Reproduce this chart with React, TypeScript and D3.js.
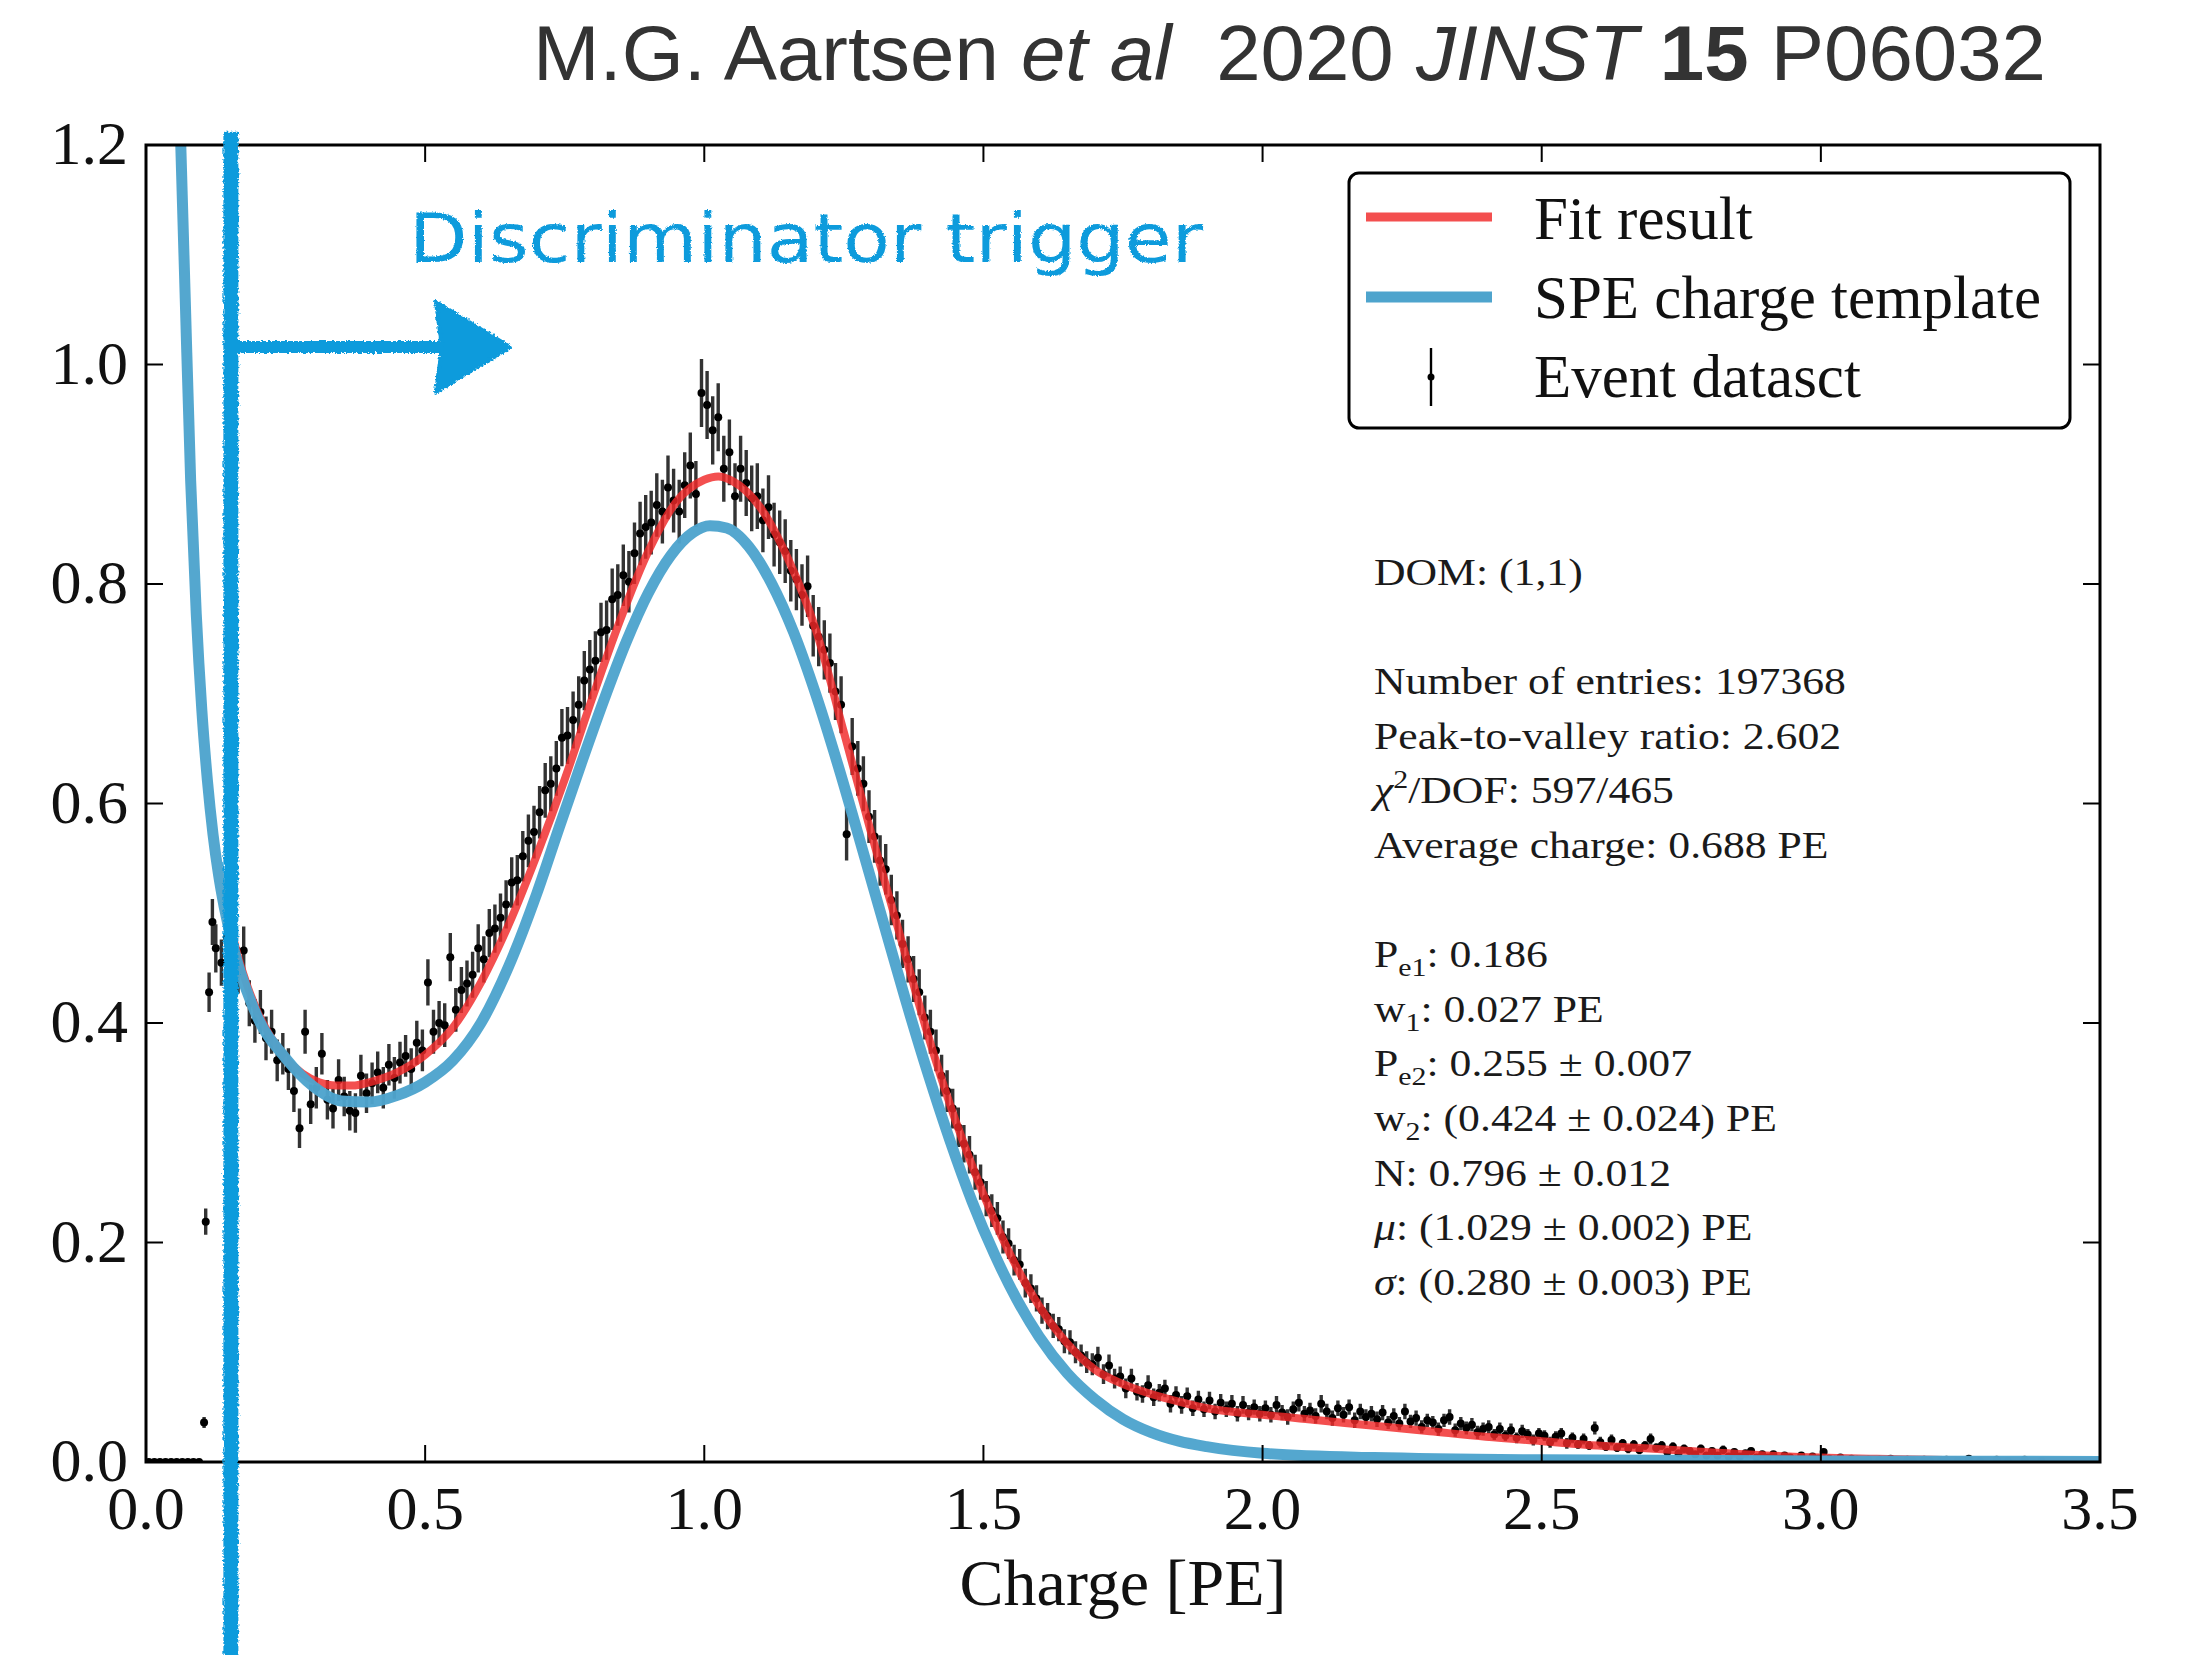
import React from 'react';
import * as d3 from 'd3';

const W = 2188;
const H = 1655;

// axes
const xTicks = [0, 0.5, 1.0, 1.5, 2.0, 2.5, 3.0, 3.5];
const yTicks = [0, 0.2, 0.4, 0.6, 0.8, 1.0, 1.2];

// Fit result (red)
const fitX = [0.15,0.16,0.18,0.20,0.225,0.25,0.28,0.31,0.34,0.37,0.40,0.45,0.50,0.55,0.60,0.65,0.70,0.75,0.80,0.85,0.90,0.95,1.00,1.025,1.05,1.10,1.15,1.20,1.25,1.30,1.35,1.40,1.45,1.50,1.55,1.60,1.65,1.70,1.75,1.80,1.85,1.90,2.00,2.10,2.20,2.30,2.40,2.50,2.60,2.70,2.80,2.90,3.00,3.10,3.20,3.35,3.50];
const fitY = [0.492,0.470,0.436,0.410,0.386,0.368,0.354,0.346,0.343,0.343,0.346,0.355,0.371,0.396,0.437,0.490,0.553,0.622,0.697,0.768,0.830,0.875,0.895,0.898,0.894,0.870,0.823,0.758,0.665,0.571,0.481,0.390,0.311,0.244,0.187,0.142,0.108,0.084,0.071,0.062,0.055,0.049,0.043,0.038,0.033,0.028,0.023,0.019,0.015,0.012,0.009,0.006,0.004,0.003,0.002,0.001,0.001];

// SPE charge template (blue)
const templateX = [0.060,0.070,0.080,0.090,0.100,0.110,0.120,0.130,0.140,0.160,0.180,0.200,0.250,0.300,0.350,0.400,0.450,0.500,0.550,0.600,0.650,0.700,0.740,0.780,0.820,0.860,0.900,0.940,0.980,1.010,1.040,1.080,1.120,1.160,1.200,1.240,1.280,1.320,1.360,1.400,1.440,1.480,1.520,1.560,1.600,1.650,1.700,1.750,1.800,1.850,1.900,2.000,2.200,2.500,3.000,3.500];
const templateY = [1.24,1.065,0.894,0.773,0.685,0.621,0.572,0.535,0.506,0.462,0.430,0.405,0.368,0.342,0.329,0.328,0.334,0.346,0.366,0.400,0.452,0.518,0.578,0.637,0.694,0.747,0.792,0.826,0.847,0.853,0.851,0.834,0.801,0.756,0.699,0.634,0.564,0.493,0.422,0.355,0.293,0.237,0.189,0.148,0.114,0.081,0.057,0.039,0.027,0.019,0.014,0.008,0.004,0.002,0.001,0.0005];

// Event dataset: bins below the trigger
const lowBinX = [0.005,0.015,0.025,0.035,0.045,0.055,0.065,0.075,0.085,0.095,0.104,0.107,0.113,0.119];
const lowBinY = [0,0,0,0,0,0,0,0,0,0,0.036,0.219,0.428,0.492];
const lowBinErr = [0,0,0,0,0,0,0,0,0,0,0.005,0.012,0.018,0.021];

// Event dataset: main bins, centres binStart + i*binWidth, values in units of 0.001
const binStart = 0.125;
const binWidth = 0.01;
const eventCounts = [
  468,455,478,462,448,466,418,402,410,386, 392,366,372,358,338,304,392,326,341,372,
  330,322,348,333,320,318,352,336,345,355, 341,362,350,364,370,358,382,375,
  437,392,400,398,460,412,430,436,444,468, 458,482,486,496,508,528,530,552,566,574,
  592,612,618,632,660,662,676,690,712,722, 730,756,758,786,790,808,802,828,846,852,
  856,872,866,888,876,866,890,908,882,974,
  963,940,952,905,920,880,905,892,878,880, 858,870,845,838,830,812,804,790,798,762,
  752,740,728,702,690,572,652,632,618,588, 570,548,540,512,498,472,458,440,428,405,
  392,375,352,338,322,305,290,280,264,255,
  240,229,222,205,199,184,180,163,158,149, 138,133,124,121,110,109,100,97,91,89,
  95,80,88,76,78,67,76,64,62,70, 59,63,67,53,61,52,60,49,57,48,
  56,46,54,48,53,44,52,45,50,44,
  49,43,52,45,41,48,54,44,47,42, 53,46,40,49,43,50,38,46,41,44,
  39,45,36,42,35,46,37,40,32,38, 36,30,38,41,29,35,31,34,27,30,
  32,25,30,24,29,22,28,25,20,26, 24,18,23,26,17,22,16,21,15,31,
  18,14,20,13,17,12,16,11,15,21, 13,15,9,14,8,12,10,7,12,6,
  10,6,11,5,9,5,8,10,4,7, 4,7,3,6,4,2,6,2,5,3,
  9,3,2,4,1,3,2,1,2,0, 2,1,3,1,0,2,1,0,2,1,
  0,1,2,0,1,0,3,0,1,0, 0,2,0,1,0,0,2,0,0,1, 0
];
const eventErrors = [
  22,21,22,22,21,22,21,20,20,20, 20,19,19,19,19,18,20,18,19,19,
  18,18,19,18,18,18,19,18,19,19, 19,19,19,19,19,19,20,19,
  21,20,20,20,22,20,21,21,21,22, 21,22,22,22,22,23,23,23,24,24,
  24,25,25,25,26,26,26,26,27,27, 27,27,27,28,28,28,28,28,29,29,
  29,29,29,29,29,29,30,30,30,31,
  31,31,31,30,30,30,30,30,30,30, 29,29,29,29,29,28,28,28,28,28,
  27,27,27,26,26,24,26,25,25,24, 24,23,23,23,22,22,21,21,21,20,
  20,19,19,19,18,18,17,17,16,16,
  16,15,15,15,14,14,14,13,13,12, 12,12,11,11,11,11,10,10,10,10,
  10,9,10,9,9,9,9,8,8,9, 8,8,8,8,8,8,8,7,8,7,
  8,7,8,7,8,7,8,7,7,7,
  7,7,8,7,7,7,8,7,7,7, 8,7,7,7,7,7,7,7,7,7,
  7,7,6,7,6,7,6,7,6,6, 6,6,6,7,6,6,6,6,6,6,
  6,5,6,5,6,5,6,5,5,5, 5,5,5,5,5,5,4,5,4,6,
  5,4,5,4,4,4,4,4,4,5, 4,4,3,4,3,4,3,3,4,3,
  3,3,4,3,3,2,3,3,2,3, 2,3,2,3,2,2,3,2,2,2,
  3,2,1,2,1,2,1,1,1,0, 1,1,2,1,0,1,1,0,1,1,
  0,1,1,0,1,0,2,0,1,0, 0,1,0,1,0,0,1,0,0,1, 0
];

const legendLabels = ['Fit result', 'SPE charge template', 'Event datasct'];

type Seg = [string, string?];
const statsLines: Seg[][] = [
  [['DOM: (1,1)']],
  [],
  [['Number of entries: 197368']],
  [['Peak-to-valley ratio: 2.602']],
  [['χ', 'i'], ['2', 'sup'], ['/DOF: 597/465']],
  [['Average charge: 0.688 PE']],
  [],
  [['P'], ['e1', 'sub'], [': 0.186']],
  [['w'], ['1', 'sub'], [': 0.027 PE']],
  [['P'], ['e2', 'sub'], [': 0.255 ± 0.007']],
  [['w'], ['2', 'sub'], [': (0.424 ± 0.024) PE']],
  [['N: 0.796 ± 0.012']],
  [['μ', 'i'], [': (1.029 ± 0.002) PE']],
  [['σ', 'i'], [': (0.280 ± 0.003) PE']],
];

// hand-drawn annotation
const triggerCharge = 0.152;
const arrowLevel = 1.016;
const arrowTip = 0.652;
const annotationText = 'Discriminator trigger';

const SERIF = '"Liberation Serif", "DejaVu Serif", serif';
const HAND = '#0c9bdc';

export default function App() {
  const x = d3.scaleLinear().domain([0, 3.5]).range([146, 2100]);
  const y = d3.scaleLinear().domain([0, 1.2]).range([1462, 145]);
  const line = d3
    .line<[number, number]>()
    .x((d) => x(d[0]))
    .y((d) => y(d[1]))
    .curve(d3.curveMonotoneX);

  const fitPath = line(fitX.map((v, i) => [v, fitY[i]] as [number, number])) || '';
  const templatePath = line(templateX.map((v, i) => [v, templateY[i]] as [number, number])) || '';

  const low = lowBinX.map((q, i) => ({ q, v: lowBinY[i], e: lowBinErr[i] }));
  const main = eventCounts
    .map((c, i) => ({ q: binStart + i * binWidth, v: c / 1000, e: eventErrors[i] / 1000 }))
    .filter((d) => d.v > 0);
  const events = [...low, ...main];
  const errPath = events
    .filter((d) => d.e > 0)
    .map((d) => `M${x(d.q).toFixed(1)},${y(d.v - d.e).toFixed(1)}V${y(d.v + d.e).toFixed(1)}`)
    .join('');

  const fmt = d3.format('.1f');
  const x0 = x(0), x1 = x(3.5), y0 = y(0), y1 = y(1.2);
  const tl = 17;

  const renderStats = (segs: Seg[], key: number, yy: number) => {
    let off = 0;
    return (
      <text key={key} x={0} y={yy} fontFamily={SERIF} fontSize={38} fill="#1a1a1a">
        {segs.map((s, j) => {
          const [t, st] = s;
          let target = 0;
          let fs = 38;
          if (st === 'sub') { target = 9; fs = 26; }
          if (st === 'sup') { target = -15; fs = 26; }
          const dy = target - off;
          off = target;
          return (
            <tspan key={j} dy={dy} fontSize={fs} fontStyle={st === 'i' ? 'italic' : 'normal'}>
              {t}
            </tspan>
          );
        })}
      </text>
    );
  };

  const ax = x(triggerCharge);
  const ay = y(arrowLevel);
  const tipX = x(arrowTip);

  return (
    <svg
      width={W}
      height={H}
      viewBox={`0 0 ${W} ${H}`}
      style={{ position: 'absolute', left: 0, top: 0, background: '#fff' }}
    >
      <defs>
        <clipPath id="plotClip">
          <rect x={x0} y={y1} width={x1 - x0} height={y0 - y1} />
        </clipPath>
        <filter id="rough" filterUnits="userSpaceOnUse" x={0} y={0} width={W} height={H}>
          <feTurbulence type="fractalNoise" baseFrequency="0.45" numOctaves={2} seed={4} />
          <feDisplacementMap in="SourceGraphic" scale={5} xChannelSelector="R" yChannelSelector="G" />
        </filter>
        <filter id="roughText" filterUnits="userSpaceOnUse" x={0} y={0} width={W} height={H}>
          <feTurbulence type="fractalNoise" baseFrequency="0.6" numOctaves={2} seed={7} />
          <feDisplacementMap in="SourceGraphic" scale={3} xChannelSelector="R" yChannelSelector="G" />
        </filter>
      </defs>

      <rect x={0} y={0} width={W} height={H} fill="#fff" />

      {/* title */}
      <text
        x={533}
        y={80}
        fontFamily='"Liberation Sans", Arial, sans-serif'
        fontSize={78}
        fill="#333"
        style={{ whiteSpace: 'pre' }}
        textLength={1513}
        lengthAdjust="spacingAndGlyphs"
      >
        <tspan>M.G. Aartsen </tspan>
        <tspan fontStyle="italic">et al</tspan>
        <tspan>{'  2020 '}</tspan>
        <tspan fontStyle="italic">JINST</tspan>
        <tspan> </tspan>
        <tspan fontWeight="bold">15</tspan>
        <tspan> P06032</tspan>
      </text>

      {/* data + curves */}
      <g clipPath="url(#plotClip)">
        <path d={errPath} stroke="#000" strokeOpacity={0.8} strokeWidth={3.4} fill="none" />
        {events.map((d, i) => (
          <circle key={i} cx={x(d.q)} cy={y(d.v)} r={4} fill="#000" />
        ))}
        <path d={fitPath} fill="none" stroke="#f02828" strokeOpacity={0.82} strokeWidth={8} strokeLinejoin="round" />
        <path d={templatePath} fill="none" stroke="#4ea4cd" strokeOpacity={0.97} strokeWidth={11} strokeLinejoin="round" />
      </g>

      {/* frame */}
      <rect x={x0} y={y1} width={x1 - x0} height={y0 - y1} fill="none" stroke="#000" strokeWidth={3} />

      {/* ticks */}
      {xTicks.map((t) => (
        <g key={'xt' + t}>
          <line x1={x(t)} x2={x(t)} y1={y0} y2={y0 - tl} stroke="#000" strokeWidth={2} />
          <line x1={x(t)} x2={x(t)} y1={y1} y2={y1 + tl} stroke="#000" strokeWidth={2} />
          <text x={x(t)} y={y0 + 67} textAnchor="middle" fontFamily={SERIF} fontSize={62} fill="#111">
            {fmt(t)}
          </text>
        </g>
      ))}
      {yTicks.map((t) => (
        <g key={'yt' + t}>
          <line x1={x0} x2={x0 + tl} y1={y(t)} y2={y(t)} stroke="#000" strokeWidth={2} />
          <line x1={x1} x2={x1 - tl} y1={y(t)} y2={y(t)} stroke="#000" strokeWidth={2} />
          <text x={128} y={y(t) + 19} textAnchor="end" fontFamily={SERIF} fontSize={62} fill="#111">
            {fmt(t)}
          </text>
        </g>
      ))}

      <text x={(x0 + x1) / 2} y={1605} textAnchor="middle" fontFamily={SERIF} fontSize={66} fill="#111">
        Charge [PE]
      </text>

      {/* legend */}
      <g>
        <rect x={1349} y={173} width={721} height={255} rx={10} ry={10} fill="#fff" stroke="#000" strokeWidth={3} />
        <line x1={1366} x2={1492} y1={217} y2={217} stroke="#f02828" strokeOpacity={0.82} strokeWidth={9} />
        <line x1={1366} x2={1492} y1={297} y2={297} stroke="#4ea4cd" strokeWidth={11} />
        <line x1={1431} x2={1431} y1={348} y2={406} stroke="#000" strokeWidth={2.4} />
        <circle cx={1431} cy={377} r={3.5} fill="#000" />
        {legendLabels.map((l, i) => (
          <text key={l} x={1534} y={239 + i * 79} fontFamily={SERIF} fontSize={61} fill="#111">
            {l}
          </text>
        ))}
      </g>

      {/* stats */}
      <g transform="translate(1374,0) scale(1.15,1)">
        {statsLines.map((segs, i) => (segs.length ? renderStats(segs, i, 585 + i * 54.6) : null))}
      </g>

      {/* hand-drawn annotation */}
      <g filter="url(#rough)">
        <line x1={ax} x2={ax} y1={y(1.212)} y2={H} stroke={HAND} strokeWidth={15} />
        <line x1={ax} x2={tipX - 60} y1={ay} y2={ay} stroke={HAND} strokeWidth={12} />
        <polygon
          points={`${tipX},${ay} ${tipX - 74},${ay - 45} ${tipX - 68},${ay} ${tipX - 74},${ay + 45}`}
          fill={HAND}
          stroke={HAND}
          strokeWidth={4}
          strokeLinejoin="round"
        />
      </g>
      <text
        x={409}
        y={262}
        fontFamily='"DejaVu Sans", "Noto Sans", sans-serif'
        fontSize={68}
        fill={HAND}
        textLength={794}
        lengthAdjust="spacingAndGlyphs"
        filter="url(#roughText)"
      >
        {annotationText}
      </text>
    </svg>
  );
}
